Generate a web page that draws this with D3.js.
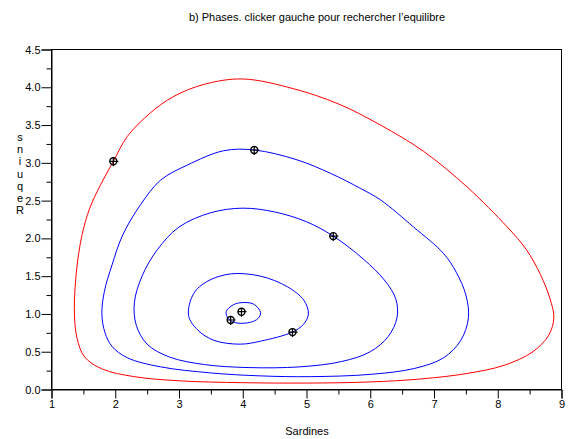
<!DOCTYPE html>
<html><head><meta charset="utf-8">
<script src="https://cdn.jsdelivr.net/npm/d3@7/dist/d3.min.js"></script>
<style>
html,body{margin:0;padding:0;background:#fff;}
svg text{font-family:"Liberation Sans",Arial,sans-serif;}
</style></head>
<body><svg id="c" width="576" height="439"></svg>
<script>
// ---- data ----
const titleText = "b) Phases. clicker gauche pour rechercher l\u2019equilibre";
const xLabel = "Sardines";
const yLabelLetters = ["s","n","i","u","q","e","R"];
const xTicks = [1,2,3,4,5,6,7,8,9];
const yTicks = [0,0.5,1,1.5,2,2.5,3,3.5,4,4.5];

const orbitRed = [[4.0,4.11],[3.4,4.04],[2.92,3.88],[2.55,3.66],[2.19,3.35],[1.97,3.02],[1.77,2.71],[1.60,2.40],[1.48,2.05],[1.41,1.70],[1.37,1.35],[1.36,1.00],[1.40,0.68],[1.52,0.43],[1.80,0.27],[2.3,0.17],[3.0,0.115],[4.0,0.09],[5.0,0.085],[6.0,0.10],[6.8,0.14],[7.5,0.21],[8.1,0.32],[8.55,0.50],[8.80,0.72],[8.88,0.95],[8.82,1.20],[8.67,1.52],[8.45,1.85],[8.15,2.15],[7.52,2.68],[6.84,3.15],[6.16,3.50],[5.5,3.78],[4.8,3.98]];
const orbitBlue1 = [[4.18,3.17],[3.70,3.16],[3.13,2.97],[2.71,2.77],[2.40,2.45],[2.12,2.05],[1.95,1.65],[1.83,1.30],[1.79,1.0],[1.84,0.75],[1.95,0.57],[2.19,0.42],[2.71,0.30],[3.49,0.22],[4.28,0.18],[5.06,0.17],[6.0,0.20],[6.7,0.28],[7.15,0.42],[7.42,0.65],[7.54,0.95],[7.50,1.25],[7.35,1.55],[7.15,1.80],[6.68,2.15],[6.16,2.51],[5.85,2.66],[5.38,2.86],[4.85,3.04]];
const orbitBlue2 = [[5.42,2.03],[5.0,2.22],[4.5,2.35],[4.0,2.40],[3.5,2.34],[3.0,2.15],[2.66,1.85],[2.42,1.50],[2.30,1.15],[2.33,0.85],[2.50,0.60],[2.85,0.43],[3.40,0.33],[4.10,0.29],[4.90,0.30],[5.55,0.37],[6.0,0.50],[6.28,0.70],[6.42,0.95],[6.40,1.20],[6.22,1.45],[5.90,1.72]];
const orbitBlue3 = [[4.78,0.76],[4.28,0.64],[3.96,0.60],[3.55,0.65],[3.29,0.79],[3.15,0.98],[3.23,1.27],[3.44,1.43],[3.81,1.53],[4.28,1.50],[4.70,1.36],[4.96,1.18],[5.03,1.00],[4.95,0.86]];
const orbitBlue4 = [[3.78,0.93],[3.74,1.03],[3.85,1.12],[3.99,1.15],[4.17,1.13],[4.28,1.02],[4.24,0.94],[4.12,0.89],[3.91,0.88]];
const orbitColors = ["#ff0000","#0000ff","#0000ff","#0000ff","#0000ff"];
const startPoints = [[1.97,3.02],[4.18,3.17],[5.42,2.03],[4.78,0.76],[3.81,0.92],[3.98,1.03]];

// ---- drawing ----
const svg = d3.select("#c");
const x = d3.scaleLinear().domain([1,9]).range([51.5,561.5]);
const y = d3.scaleLinear().domain([0,4.5]).range([389.5,49.5]);

svg.append("rect").attr("x",x(1)).attr("y",y(4.5)).attr("width",x(9)-x(1)).attr("height",y(0)-y(4.5))
  .attr("fill","none").attr("stroke","#000").attr("stroke-width",1);

const xMinor = d3.range(1.5,9,1);
const yMinor = d3.range(0.25,4.5,0.5);
svg.append("g").attr("transform",`translate(0,${y(0)})`)
  .call(d3.axisBottom(x).tickValues(xMinor).tickSize(5).tickFormat(""))
  .call(g=>g.select(".domain").remove());
svg.append("g").attr("transform",`translate(${x(1)},0)`)
  .call(d3.axisLeft(y).tickValues(yMinor).tickSize(5).tickFormat(""))
  .call(g=>g.select(".domain").remove());

const gx = svg.append("g").attr("transform",`translate(0,${y(0)})`)
  .call(d3.axisBottom(x).tickValues(xTicks).tickSize(9).tickPadding(2).tickFormat(d3.format("d")));
const gy = svg.append("g").attr("transform",`translate(${x(1)},0)`)
  .call(d3.axisLeft(y).tickValues(yTicks).tickSize(10).tickPadding(1).tickFormat(d3.format(".1f")));
[gx,gy].forEach(g=>{
  g.select(".domain").attr("stroke","#000");
  g.selectAll("text").attr("font-size",11).attr("fill","#000").attr("font-family","Liberation Sans, Arial, sans-serif");
  g.selectAll("line").attr("stroke","#000");
});

const line = d3.line().x(d=>x(d[0])).y(d=>y(d[1])).curve(d3.curveCatmullRomClosed.alpha(0.5));
const orbits = [orbitRed,orbitBlue1,orbitBlue2,orbitBlue3,orbitBlue4];
svg.append("g").selectAll("path").data(orbits).join("path")
  .attr("d",line).attr("fill","none").attr("stroke",(d,i)=>orbitColors[i]).attr("stroke-width",1);

const mk = svg.append("g").selectAll("g").data(startPoints).join("g")
  .attr("transform",d=>`translate(${x(d[0])},${y(d[1])})`);
mk.append("circle").attr("r",3.5).attr("fill","none").attr("stroke","#000").attr("stroke-width",1.4);
mk.append("path").attr("d","M-3.5,0H5M0,-3.5V5").attr("stroke","#000").attr("stroke-width",1.2);

svg.append("text").attr("x",317).attr("y",21).attr("text-anchor","middle").attr("font-size",11).text(titleText);
svg.append("text").attr("x",307).attr("y",435).attr("text-anchor","middle").attr("font-size",11).text(xLabel);
svg.append("g").selectAll("text").data(yLabelLetters).join("text")
  .attr("x",20).attr("y",(d,i)=>141+i*12.2).attr("text-anchor","middle").attr("font-size",11).text(d=>d);
</script></body></html>
